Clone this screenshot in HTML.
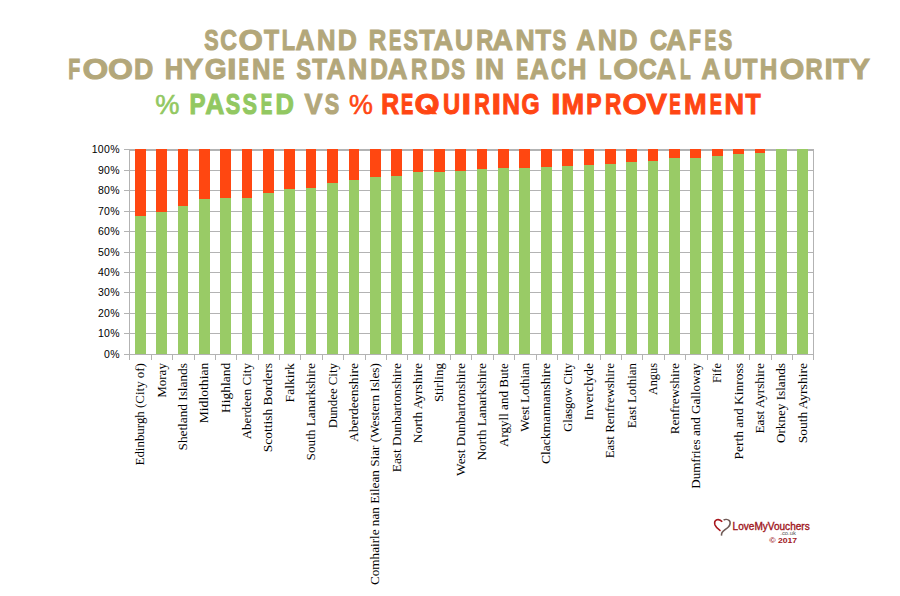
<!DOCTYPE html>
<html><head><meta charset="utf-8"><style>
html,body{margin:0;padding:0;background:#fff;}
body{width:900px;height:596px;overflow:hidden;position:relative;}
svg{position:absolute;left:0;top:0;}
.yl{font-family:"Liberation Sans",sans-serif;font-size:10.5px;fill:#000;text-anchor:end;letter-spacing:0.3px;}
.cl{font-family:"Liberation Serif",serif;font-size:12.8px;fill:#000;text-anchor:end;}
.t text{font-family:"Liberation Sans",sans-serif;}
</style></head><body>
<svg shape-rendering="auto" width="900" height="596" viewBox="0 0 900 596">
<g class="t">
<text transform="translate(204.28,50.40) scale(0.7156,1)" font-size="30.09" font-weight="bold" fill="#b3a77a" stroke="#b3a77a" stroke-width="1.0" vector-effect="non-scaling-stroke">S</text>
<text transform="translate(220.15,50.40) scale(0.7676,1)" font-size="30.09" font-weight="bold" fill="#b3a77a" stroke="#b3a77a" stroke-width="1.0" vector-effect="non-scaling-stroke">C</text>
<text transform="translate(238.61,50.40) scale(1.0428,1)" font-size="30.09" font-weight="bold" fill="#b3a77a" stroke="#b3a77a" stroke-width="1.0" vector-effect="non-scaling-stroke">O</text>
<text transform="translate(264.12,50.40) scale(0.8184,1)" font-size="30.09" font-weight="bold" fill="#b3a77a" stroke="#b3a77a" stroke-width="1.0" vector-effect="non-scaling-stroke">T</text>
<text transform="translate(281.84,50.40) scale(0.7254,1)" font-size="30.09" font-weight="bold" fill="#b3a77a" stroke="#b3a77a" stroke-width="1.0" vector-effect="non-scaling-stroke">L</text>
<text transform="translate(295.44,50.40) scale(0.8818,1)" font-size="30.09" font-weight="bold" fill="#b3a77a" stroke="#b3a77a" stroke-width="1.0" vector-effect="non-scaling-stroke">A</text>
<text transform="translate(317.08,50.40) scale(0.8537,1)" font-size="30.09" font-weight="bold" fill="#b3a77a" stroke="#b3a77a" stroke-width="1.0" vector-effect="non-scaling-stroke">N</text>
<text transform="translate(337.63,50.40) scale(0.8779,1)" font-size="30.09" font-weight="bold" fill="#b3a77a" stroke="#b3a77a" stroke-width="1.0" vector-effect="non-scaling-stroke">D</text>
<text transform="translate(368.78,50.40) scale(0.8063,1)" font-size="30.09" font-weight="bold" fill="#b3a77a" stroke="#b3a77a" stroke-width="1.0" vector-effect="non-scaling-stroke">R</text>
<text transform="translate(388.97,50.40) scale(0.6102,1)" font-size="30.09" font-weight="bold" fill="#b3a77a" stroke="#b3a77a" stroke-width="1.0" vector-effect="non-scaling-stroke">E</text>
<text transform="translate(403.57,50.40) scale(0.7212,1)" font-size="30.09" font-weight="bold" fill="#b3a77a" stroke="#b3a77a" stroke-width="1.0" vector-effect="non-scaling-stroke">S</text>
<text transform="translate(419.21,50.40) scale(0.8466,1)" font-size="30.09" font-weight="bold" fill="#b3a77a" stroke="#b3a77a" stroke-width="1.0" vector-effect="non-scaling-stroke">T</text>
<text transform="translate(433.52,50.40) scale(0.9066,1)" font-size="30.09" font-weight="bold" fill="#b3a77a" stroke="#b3a77a" stroke-width="1.0" vector-effect="non-scaling-stroke">A</text>
<text transform="translate(455.00,50.40) scale(0.8294,1)" font-size="30.09" font-weight="bold" fill="#b3a77a" stroke="#b3a77a" stroke-width="1.0" vector-effect="non-scaling-stroke">U</text>
<text transform="translate(476.22,50.40) scale(0.7854,1)" font-size="30.09" font-weight="bold" fill="#b3a77a" stroke="#b3a77a" stroke-width="1.0" vector-effect="non-scaling-stroke">R</text>
<text transform="translate(492.49,50.40) scale(0.9413,1)" font-size="30.09" font-weight="bold" fill="#b3a77a" stroke="#b3a77a" stroke-width="1.0" vector-effect="non-scaling-stroke">A</text>
<text transform="translate(515.42,50.40) scale(0.8819,1)" font-size="30.09" font-weight="bold" fill="#b3a77a" stroke="#b3a77a" stroke-width="1.0" vector-effect="non-scaling-stroke">N</text>
<text transform="translate(535.51,50.40) scale(0.8466,1)" font-size="30.09" font-weight="bold" fill="#b3a77a" stroke="#b3a77a" stroke-width="1.0" vector-effect="non-scaling-stroke">T</text>
<text transform="translate(552.61,50.40) scale(0.6823,1)" font-size="30.09" font-weight="bold" fill="#b3a77a" stroke="#b3a77a" stroke-width="1.0" vector-effect="non-scaling-stroke">S</text>
<text transform="translate(576.14,50.40) scale(0.8769,1)" font-size="30.09" font-weight="bold" fill="#b3a77a" stroke="#b3a77a" stroke-width="1.0" vector-effect="non-scaling-stroke">A</text>
<text transform="translate(597.71,50.40) scale(0.8876,1)" font-size="30.09" font-weight="bold" fill="#b3a77a" stroke="#b3a77a" stroke-width="1.0" vector-effect="non-scaling-stroke">N</text>
<text transform="translate(619.09,50.40) scale(0.8508,1)" font-size="30.09" font-weight="bold" fill="#b3a77a" stroke="#b3a77a" stroke-width="1.0" vector-effect="non-scaling-stroke">D</text>
<text transform="translate(650.12,50.40) scale(0.7930,1)" font-size="30.09" font-weight="bold" fill="#b3a77a" stroke="#b3a77a" stroke-width="1.0" vector-effect="non-scaling-stroke">C</text>
<text transform="translate(666.21,50.40) scale(0.9165,1)" font-size="30.09" font-weight="bold" fill="#b3a77a" stroke="#b3a77a" stroke-width="1.0" vector-effect="non-scaling-stroke">A</text>
<text transform="translate(688.99,50.40) scale(0.6486,1)" font-size="30.09" font-weight="bold" fill="#b3a77a" stroke="#b3a77a" stroke-width="1.0" vector-effect="non-scaling-stroke">F</text>
<text transform="translate(704.62,50.40) scale(0.5865,1)" font-size="30.09" font-weight="bold" fill="#b3a77a" stroke="#b3a77a" stroke-width="1.0" vector-effect="non-scaling-stroke">E</text>
<text transform="translate(718.41,50.40) scale(0.6823,1)" font-size="30.09" font-weight="bold" fill="#b3a77a" stroke="#b3a77a" stroke-width="1.0" vector-effect="non-scaling-stroke">S</text>
<text transform="translate(68.29,78.70) scale(0.6486,1)" font-size="30.09" font-weight="bold" fill="#b3a77a" stroke="#b3a77a" stroke-width="1.0" vector-effect="non-scaling-stroke">F</text>
<text transform="translate(82.44,78.70) scale(1.1002,1)" font-size="30.09" font-weight="bold" fill="#b3a77a" stroke="#b3a77a" stroke-width="1.0" vector-effect="non-scaling-stroke">O</text>
<text transform="translate(107.88,78.70) scale(1.0667,1)" font-size="30.09" font-weight="bold" fill="#b3a77a" stroke="#b3a77a" stroke-width="1.0" vector-effect="non-scaling-stroke">O</text>
<text transform="translate(134.01,78.70) scale(0.8888,1)" font-size="30.09" font-weight="bold" fill="#b3a77a" stroke="#b3a77a" stroke-width="1.0" vector-effect="non-scaling-stroke">D</text>
<text transform="translate(164.79,78.70) scale(0.8480,1)" font-size="30.09" font-weight="bold" fill="#b3a77a" stroke="#b3a77a" stroke-width="1.0" vector-effect="non-scaling-stroke">H</text>
<text transform="translate(183.29,78.70) scale(0.9964,1)" font-size="30.09" font-weight="bold" fill="#b3a77a" stroke="#b3a77a" stroke-width="1.0" vector-effect="non-scaling-stroke">Y</text>
<text transform="translate(204.65,78.70) scale(0.9358,1)" font-size="30.09" font-weight="bold" fill="#b3a77a" stroke="#b3a77a" stroke-width="1.0" vector-effect="non-scaling-stroke">G</text>
<text transform="translate(226.88,78.70) scale(1.1537,1)" font-size="30.09" font-weight="bold" fill="#b3a77a" stroke="#b3a77a" stroke-width="1.0" vector-effect="non-scaling-stroke">I</text>
<text transform="translate(238.80,78.70) scale(0.4976,1)" font-size="30.09" font-weight="bold" fill="#b3a77a" stroke="#b3a77a" stroke-width="1.0" vector-effect="non-scaling-stroke">E</text>
<text transform="translate(252.09,78.70) scale(0.8480,1)" font-size="30.09" font-weight="bold" fill="#b3a77a" stroke="#b3a77a" stroke-width="1.0" vector-effect="non-scaling-stroke">N</text>
<text transform="translate(272.64,78.70) scale(0.5746,1)" font-size="30.09" font-weight="bold" fill="#b3a77a" stroke="#b3a77a" stroke-width="1.0" vector-effect="non-scaling-stroke">E</text>
<text transform="translate(296.57,78.70) scale(0.7212,1)" font-size="30.09" font-weight="bold" fill="#b3a77a" stroke="#b3a77a" stroke-width="1.0" vector-effect="non-scaling-stroke">S</text>
<text transform="translate(312.23,78.70) scale(0.8071,1)" font-size="30.09" font-weight="bold" fill="#b3a77a" stroke="#b3a77a" stroke-width="1.0" vector-effect="non-scaling-stroke">T</text>
<text transform="translate(326.55,78.70) scale(0.8719,1)" font-size="30.09" font-weight="bold" fill="#b3a77a" stroke="#b3a77a" stroke-width="1.0" vector-effect="non-scaling-stroke">A</text>
<text transform="translate(348.01,78.70) scale(0.8876,1)" font-size="30.09" font-weight="bold" fill="#b3a77a" stroke="#b3a77a" stroke-width="1.0" vector-effect="non-scaling-stroke">N</text>
<text transform="translate(370.16,78.70) scale(0.8129,1)" font-size="30.09" font-weight="bold" fill="#b3a77a" stroke="#b3a77a" stroke-width="1.0" vector-effect="non-scaling-stroke">D</text>
<text transform="translate(387.82,78.70) scale(0.9066,1)" font-size="30.09" font-weight="bold" fill="#b3a77a" stroke="#b3a77a" stroke-width="1.0" vector-effect="non-scaling-stroke">A</text>
<text transform="translate(410.99,78.70) scale(0.7487,1)" font-size="30.09" font-weight="bold" fill="#b3a77a" stroke="#b3a77a" stroke-width="1.0" vector-effect="non-scaling-stroke">R</text>
<text transform="translate(430.72,78.70) scale(0.8834,1)" font-size="30.09" font-weight="bold" fill="#b3a77a" stroke="#b3a77a" stroke-width="1.0" vector-effect="non-scaling-stroke">D</text>
<text transform="translate(451.20,78.70) scale(0.6879,1)" font-size="30.09" font-weight="bold" fill="#b3a77a" stroke="#b3a77a" stroke-width="1.0" vector-effect="non-scaling-stroke">S</text>
<text transform="translate(475.20,78.70) scale(0.9922,1)" font-size="30.09" font-weight="bold" fill="#b3a77a" stroke="#b3a77a" stroke-width="1.0" vector-effect="non-scaling-stroke">I</text>
<text transform="translate(484.71,78.70) scale(0.8876,1)" font-size="30.09" font-weight="bold" fill="#b3a77a" stroke="#b3a77a" stroke-width="1.0" vector-effect="non-scaling-stroke">N</text>
<text transform="translate(516.64,78.70) scale(0.5746,1)" font-size="30.09" font-weight="bold" fill="#b3a77a" stroke="#b3a77a" stroke-width="1.0" vector-effect="non-scaling-stroke">E</text>
<text transform="translate(529.84,78.70) scale(0.8769,1)" font-size="30.09" font-weight="bold" fill="#b3a77a" stroke="#b3a77a" stroke-width="1.0" vector-effect="non-scaling-stroke">A</text>
<text transform="translate(550.94,78.70) scale(0.6964,1)" font-size="30.09" font-weight="bold" fill="#b3a77a" stroke="#b3a77a" stroke-width="1.0" vector-effect="non-scaling-stroke">C</text>
<text transform="translate(568.09,78.70) scale(0.8480,1)" font-size="30.09" font-weight="bold" fill="#b3a77a" stroke="#b3a77a" stroke-width="1.0" vector-effect="non-scaling-stroke">H</text>
<text transform="translate(599.16,78.70) scale(0.6671,1)" font-size="30.09" font-weight="bold" fill="#b3a77a" stroke="#b3a77a" stroke-width="1.0" vector-effect="non-scaling-stroke">L</text>
<text transform="translate(613.18,78.70) scale(1.0667,1)" font-size="30.09" font-weight="bold" fill="#b3a77a" stroke="#b3a77a" stroke-width="1.0" vector-effect="non-scaling-stroke">O</text>
<text transform="translate(638.77,78.70) scale(0.8337,1)" font-size="30.09" font-weight="bold" fill="#b3a77a" stroke="#b3a77a" stroke-width="1.0" vector-effect="non-scaling-stroke">C</text>
<text transform="translate(656.52,78.70) scale(0.9066,1)" font-size="30.09" font-weight="bold" fill="#b3a77a" stroke="#b3a77a" stroke-width="1.0" vector-effect="non-scaling-stroke">A</text>
<text transform="translate(680.03,78.70) scale(0.5829,1)" font-size="30.09" font-weight="bold" fill="#b3a77a" stroke="#b3a77a" stroke-width="1.0" vector-effect="non-scaling-stroke">L</text>
<text transform="translate(701.55,78.70) scale(0.8719,1)" font-size="30.09" font-weight="bold" fill="#b3a77a" stroke="#b3a77a" stroke-width="1.0" vector-effect="non-scaling-stroke">A</text>
<text transform="translate(724.00,78.70) scale(0.8294,1)" font-size="30.09" font-weight="bold" fill="#b3a77a" stroke="#b3a77a" stroke-width="1.0" vector-effect="non-scaling-stroke">U</text>
<text transform="translate(742.53,78.70) scale(0.8127,1)" font-size="30.09" font-weight="bold" fill="#b3a77a" stroke="#b3a77a" stroke-width="1.0" vector-effect="non-scaling-stroke">T</text>
<text transform="translate(759.87,78.70) scale(0.8084,1)" font-size="30.09" font-weight="bold" fill="#b3a77a" stroke="#b3a77a" stroke-width="1.0" vector-effect="non-scaling-stroke">H</text>
<text transform="translate(779.70,78.70) scale(1.0523,1)" font-size="30.09" font-weight="bold" fill="#b3a77a" stroke="#b3a77a" stroke-width="1.0" vector-effect="non-scaling-stroke">O</text>
<text transform="translate(805.62,78.70) scale(0.7854,1)" font-size="30.09" font-weight="bold" fill="#b3a77a" stroke="#b3a77a" stroke-width="1.0" vector-effect="non-scaling-stroke">R</text>
<text transform="translate(824.50,78.70) scale(0.9922,1)" font-size="30.09" font-weight="bold" fill="#b3a77a" stroke="#b3a77a" stroke-width="1.0" vector-effect="non-scaling-stroke">I</text>
<text transform="translate(832.90,78.70) scale(0.8805,1)" font-size="30.09" font-weight="bold" fill="#b3a77a" stroke="#b3a77a" stroke-width="1.0" vector-effect="non-scaling-stroke">T</text>
<text transform="translate(849.99,78.70) scale(0.9964,1)" font-size="30.09" font-weight="bold" fill="#b3a77a" stroke="#b3a77a" stroke-width="1.0" vector-effect="non-scaling-stroke">Y</text>
<text transform="translate(155.33,114.14) scale(0.9989,1)" font-size="27.30" font-weight="normal" fill="#92c862" stroke="#92c862" stroke-width="0.6">%</text>
<text transform="translate(189.59,113.70) scale(0.8105,1)" font-size="29.65" font-weight="bold" fill="#92c862" stroke="#92c862" stroke-width="1.0" vector-effect="non-scaling-stroke">P</text>
<text transform="translate(205.14,113.70) scale(0.8897,1)" font-size="29.65" font-weight="bold" fill="#92c862" stroke="#92c862" stroke-width="1.0" vector-effect="non-scaling-stroke">A</text>
<text transform="translate(225.87,113.70) scale(0.7318,1)" font-size="29.65" font-weight="bold" fill="#92c862" stroke="#92c862" stroke-width="1.0" vector-effect="non-scaling-stroke">S</text>
<text transform="translate(242.57,113.70) scale(0.7318,1)" font-size="29.65" font-weight="bold" fill="#92c862" stroke="#92c862" stroke-width="1.0" vector-effect="non-scaling-stroke">S</text>
<text transform="translate(260.64,113.70) scale(0.5831,1)" font-size="29.65" font-weight="bold" fill="#92c862" stroke="#92c862" stroke-width="1.0" vector-effect="non-scaling-stroke">E</text>
<text transform="translate(275.50,113.70) scale(0.8579,1)" font-size="29.65" font-weight="bold" fill="#92c862" stroke="#92c862" stroke-width="1.0" vector-effect="non-scaling-stroke">D</text>
<text transform="translate(304.61,113.70) scale(0.9137,1)" font-size="29.65" font-weight="bold" fill="#b3a77a" stroke="#b3a77a" stroke-width="1.0" vector-effect="non-scaling-stroke">V</text>
<text transform="translate(324.87,113.70) scale(0.7318,1)" font-size="29.65" font-weight="bold" fill="#b3a77a" stroke="#b3a77a" stroke-width="1.0" vector-effect="non-scaling-stroke">S</text>
<text transform="translate(349.04,114.14) scale(0.9854,1)" font-size="27.30" font-weight="normal" fill="#ff4613" stroke="#ff4613" stroke-width="0.6">%</text>
<text transform="translate(381.15,113.70) scale(0.8341,1)" font-size="29.65" font-weight="bold" fill="#ff4613" stroke="#ff4613" stroke-width="1.0" vector-effect="non-scaling-stroke">R</text>
<text transform="translate(400.97,113.70) scale(0.6192,1)" font-size="29.65" font-weight="bold" fill="#ff4613" stroke="#ff4613" stroke-width="1.0" vector-effect="non-scaling-stroke">E</text>
<text transform="translate(414.48,113.70) scale(1.0872,1)" font-size="29.65" font-weight="bold" fill="#ff4613" stroke="#ff4613" stroke-width="1.0" vector-effect="non-scaling-stroke">O</text>
<path d="M424.6,106.8 L429.2,104.2 L437.2,114.2 L431.6,114.2 Z" fill="#ff4613"/>
<text transform="translate(443.07,113.70) scale(0.8023,1)" font-size="29.65" font-weight="bold" fill="#ff4613" stroke="#ff4613" stroke-width="1.0" vector-effect="non-scaling-stroke">U</text>
<text transform="translate(461.48,113.70) scale(1.1707,1)" font-size="29.65" font-weight="bold" fill="#ff4613" stroke="#ff4613" stroke-width="1.0" vector-effect="non-scaling-stroke">I</text>
<text transform="translate(474.36,113.70) scale(0.7279,1)" font-size="29.65" font-weight="bold" fill="#ff4613" stroke="#ff4613" stroke-width="1.0" vector-effect="non-scaling-stroke">R</text>
<text transform="translate(491.48,113.70) scale(1.1707,1)" font-size="29.65" font-weight="bold" fill="#ff4613" stroke="#ff4613" stroke-width="1.0" vector-effect="non-scaling-stroke">I</text>
<text transform="translate(502.16,113.70) scale(0.8261,1)" font-size="29.65" font-weight="bold" fill="#ff4613" stroke="#ff4613" stroke-width="1.0" vector-effect="non-scaling-stroke">N</text>
<text transform="translate(521.55,113.70) scale(0.7846,1)" font-size="29.65" font-weight="bold" fill="#ff4613" stroke="#ff4613" stroke-width="1.0" vector-effect="non-scaling-stroke">G</text>
<text transform="translate(550.88,113.70) scale(1.1707,1)" font-size="29.65" font-weight="bold" fill="#ff4613" stroke="#ff4613" stroke-width="1.0" vector-effect="non-scaling-stroke">I</text>
<text transform="translate(561.38,113.70) scale(0.9164,1)" font-size="29.65" font-weight="bold" fill="#ff4613" stroke="#ff4613" stroke-width="1.0" vector-effect="non-scaling-stroke">M</text>
<text transform="translate(586.26,113.70) scale(0.7747,1)" font-size="29.65" font-weight="bold" fill="#ff4613" stroke="#ff4613" stroke-width="1.0" vector-effect="non-scaling-stroke">P</text>
<text transform="translate(604.99,113.70) scale(0.7598,1)" font-size="29.65" font-weight="bold" fill="#ff4613" stroke="#ff4613" stroke-width="1.0" vector-effect="non-scaling-stroke">R</text>
<text transform="translate(622.52,113.70) scale(1.0533,1)" font-size="29.65" font-weight="bold" fill="#ff4613" stroke="#ff4613" stroke-width="1.0" vector-effect="non-scaling-stroke">O</text>
<text transform="translate(646.29,113.70) scale(1.0479,1)" font-size="29.65" font-weight="bold" fill="#ff4613" stroke="#ff4613" stroke-width="1.0" vector-effect="non-scaling-stroke">V</text>
<text transform="translate(669.34,113.70) scale(0.5831,1)" font-size="29.65" font-weight="bold" fill="#ff4613" stroke="#ff4613" stroke-width="1.0" vector-effect="non-scaling-stroke">E</text>
<text transform="translate(683.98,113.70) scale(0.9164,1)" font-size="29.65" font-weight="bold" fill="#ff4613" stroke="#ff4613" stroke-width="1.0" vector-effect="non-scaling-stroke">M</text>
<text transform="translate(709.77,113.70) scale(0.6192,1)" font-size="29.65" font-weight="bold" fill="#ff4613" stroke="#ff4613" stroke-width="1.0" vector-effect="non-scaling-stroke">E</text>
<text transform="translate(724.49,113.70) scale(0.9121,1)" font-size="29.65" font-weight="bold" fill="#ff4613" stroke="#ff4613" stroke-width="1.0" vector-effect="non-scaling-stroke">N</text>
<text transform="translate(745.52,113.70) scale(0.8362,1)" font-size="29.65" font-weight="bold" fill="#ff4613" stroke="#ff4613" stroke-width="1.0" vector-effect="non-scaling-stroke">T</text>
</g>
<g shape-rendering="crispEdges"><rect x="124" y="149" width="690" height="1" fill="#b3b3b3"/>
<text x="119.8" y="152.60" class="yl">100%</text>
<rect x="124" y="170" width="690" height="1" fill="#b3b3b3"/>
<text x="119.8" y="173.60" class="yl">90%</text>
<rect x="124" y="190" width="690" height="1" fill="#b3b3b3"/>
<text x="119.8" y="193.60" class="yl">80%</text>
<rect x="124" y="211" width="690" height="1" fill="#b3b3b3"/>
<text x="119.8" y="214.60" class="yl">70%</text>
<rect x="124" y="231" width="690" height="1" fill="#b3b3b3"/>
<text x="119.8" y="234.60" class="yl">60%</text>
<rect x="124" y="252" width="690" height="1" fill="#b3b3b3"/>
<text x="119.8" y="255.60" class="yl">50%</text>
<rect x="124" y="272" width="690" height="1" fill="#b3b3b3"/>
<text x="119.8" y="275.60" class="yl">40%</text>
<rect x="124" y="292" width="690" height="1" fill="#b3b3b3"/>
<text x="119.8" y="295.60" class="yl">30%</text>
<rect x="124" y="313" width="690" height="1" fill="#b3b3b3"/>
<text x="119.8" y="316.60" class="yl">20%</text>
<rect x="124" y="333" width="690" height="1" fill="#b3b3b3"/>
<text x="119.8" y="336.60" class="yl">10%</text>
<rect x="124" y="354" width="690" height="1" fill="#b3b3b3"/>
<text x="119.8" y="357.60" class="yl">0%</text>
<rect x="129" y="150" width="685" height="1" fill="#b3b3b3"/>
<rect x="135" y="149" width="11" height="67" fill="#ff4711"/>
<rect x="135" y="216" width="11" height="138" fill="#99cb66"/>
<rect x="156" y="149" width="11" height="63" fill="#ff4711"/>
<rect x="156" y="212" width="11" height="142" fill="#99cb66"/>
<rect x="178" y="149" width="10" height="57" fill="#ff4711"/>
<rect x="178" y="206" width="10" height="148" fill="#99cb66"/>
<rect x="199" y="149" width="11" height="50" fill="#ff4711"/>
<rect x="199" y="199" width="11" height="155" fill="#99cb66"/>
<rect x="220" y="149" width="11" height="49" fill="#ff4711"/>
<rect x="220" y="198" width="11" height="156" fill="#99cb66"/>
<rect x="242" y="149" width="10" height="49" fill="#ff4711"/>
<rect x="242" y="198" width="10" height="156" fill="#99cb66"/>
<rect x="263" y="149" width="11" height="44" fill="#ff4711"/>
<rect x="263" y="193" width="11" height="161" fill="#99cb66"/>
<rect x="284" y="149" width="11" height="40" fill="#ff4711"/>
<rect x="284" y="189" width="11" height="165" fill="#99cb66"/>
<rect x="306" y="149" width="10" height="39" fill="#ff4711"/>
<rect x="306" y="188" width="10" height="166" fill="#99cb66"/>
<rect x="327" y="149" width="11" height="34" fill="#ff4711"/>
<rect x="327" y="183" width="11" height="171" fill="#99cb66"/>
<rect x="349" y="149" width="10" height="31" fill="#ff4711"/>
<rect x="349" y="180" width="10" height="174" fill="#99cb66"/>
<rect x="370" y="149" width="11" height="28" fill="#ff4711"/>
<rect x="370" y="177" width="11" height="177" fill="#99cb66"/>
<rect x="391" y="149" width="11" height="27" fill="#ff4711"/>
<rect x="391" y="176" width="11" height="178" fill="#99cb66"/>
<rect x="413" y="149" width="10" height="23" fill="#ff4711"/>
<rect x="413" y="172" width="10" height="182" fill="#99cb66"/>
<rect x="434" y="149" width="11" height="23" fill="#ff4711"/>
<rect x="434" y="172" width="11" height="182" fill="#99cb66"/>
<rect x="455" y="149" width="11" height="22" fill="#ff4711"/>
<rect x="455" y="171" width="11" height="183" fill="#99cb66"/>
<rect x="477" y="149" width="10" height="20" fill="#ff4711"/>
<rect x="477" y="169" width="10" height="185" fill="#99cb66"/>
<rect x="498" y="149" width="11" height="19" fill="#ff4711"/>
<rect x="498" y="168" width="11" height="186" fill="#99cb66"/>
<rect x="519" y="149" width="11" height="19" fill="#ff4711"/>
<rect x="519" y="168" width="11" height="186" fill="#99cb66"/>
<rect x="541" y="149" width="11" height="18" fill="#ff4711"/>
<rect x="541" y="167" width="11" height="187" fill="#99cb66"/>
<rect x="562" y="149" width="11" height="17" fill="#ff4711"/>
<rect x="562" y="166" width="11" height="188" fill="#99cb66"/>
<rect x="584" y="149" width="10" height="16" fill="#ff4711"/>
<rect x="584" y="165" width="10" height="189" fill="#99cb66"/>
<rect x="605" y="149" width="11" height="15" fill="#ff4711"/>
<rect x="605" y="164" width="11" height="190" fill="#99cb66"/>
<rect x="626" y="149" width="11" height="13" fill="#ff4711"/>
<rect x="626" y="162" width="11" height="192" fill="#99cb66"/>
<rect x="648" y="149" width="10" height="12" fill="#ff4711"/>
<rect x="648" y="161" width="10" height="193" fill="#99cb66"/>
<rect x="669" y="149" width="11" height="9" fill="#ff4711"/>
<rect x="669" y="158" width="11" height="196" fill="#99cb66"/>
<rect x="690" y="149" width="11" height="9" fill="#ff4711"/>
<rect x="690" y="158" width="11" height="196" fill="#99cb66"/>
<rect x="712" y="149" width="11" height="7" fill="#ff4711"/>
<rect x="712" y="156" width="11" height="198" fill="#99cb66"/>
<rect x="733" y="149" width="11" height="5" fill="#ff4711"/>
<rect x="733" y="154" width="11" height="200" fill="#99cb66"/>
<rect x="755" y="149" width="10" height="4" fill="#ff4711"/>
<rect x="755" y="153" width="10" height="201" fill="#99cb66"/>
<rect x="776" y="149" width="11" height="205" fill="#99cb66"/>
<rect x="797" y="149" width="11" height="205" fill="#99cb66"/>
<rect x="129" y="149" width="1" height="211" fill="#b3b3b3"/>
<rect x="813" y="149" width="1" height="206" fill="#b3b3b3"/>
<rect x="129" y="355" width="1" height="5" fill="#b3b3b3"/>
<rect x="151" y="355" width="1" height="5" fill="#b3b3b3"/>
<rect x="172" y="355" width="1" height="5" fill="#b3b3b3"/>
<rect x="194" y="355" width="1" height="5" fill="#b3b3b3"/>
<rect x="215" y="355" width="1" height="5" fill="#b3b3b3"/>
<rect x="236" y="355" width="1" height="5" fill="#b3b3b3"/>
<rect x="258" y="355" width="1" height="5" fill="#b3b3b3"/>
<rect x="279" y="355" width="1" height="5" fill="#b3b3b3"/>
<rect x="300" y="355" width="1" height="5" fill="#b3b3b3"/>
<rect x="322" y="355" width="1" height="5" fill="#b3b3b3"/>
<rect x="343" y="355" width="1" height="5" fill="#b3b3b3"/>
<rect x="365" y="355" width="1" height="5" fill="#b3b3b3"/>
<rect x="386" y="355" width="1" height="5" fill="#b3b3b3"/>
<rect x="407" y="355" width="1" height="5" fill="#b3b3b3"/>
<rect x="429" y="355" width="1" height="5" fill="#b3b3b3"/>
<rect x="450" y="355" width="1" height="5" fill="#b3b3b3"/>
<rect x="471" y="355" width="1" height="5" fill="#b3b3b3"/>
<rect x="493" y="355" width="1" height="5" fill="#b3b3b3"/>
<rect x="514" y="355" width="1" height="5" fill="#b3b3b3"/>
<rect x="536" y="355" width="1" height="5" fill="#b3b3b3"/>
<rect x="557" y="355" width="1" height="5" fill="#b3b3b3"/>
<rect x="578" y="355" width="1" height="5" fill="#b3b3b3"/>
<rect x="600" y="355" width="1" height="5" fill="#b3b3b3"/>
<rect x="621" y="355" width="1" height="5" fill="#b3b3b3"/>
<rect x="642" y="355" width="1" height="5" fill="#b3b3b3"/>
<rect x="664" y="355" width="1" height="5" fill="#b3b3b3"/>
<rect x="685" y="355" width="1" height="5" fill="#b3b3b3"/>
<rect x="707" y="355" width="1" height="5" fill="#b3b3b3"/>
<rect x="728" y="355" width="1" height="5" fill="#b3b3b3"/>
<rect x="749" y="355" width="1" height="5" fill="#b3b3b3"/>
<rect x="771" y="355" width="1" height="5" fill="#b3b3b3"/>
<rect x="792" y="355" width="1" height="5" fill="#b3b3b3"/>
<rect x="813" y="355" width="1" height="5" fill="#b3b3b3"/></g><text transform="translate(144.23,363.10) rotate(-90)" class="cl" textLength="102.42" lengthAdjust="spacingAndGlyphs">Edinburgh (City of)</text>
<text transform="translate(165.60,363.10) rotate(-90)" class="cl" textLength="34.70" lengthAdjust="spacingAndGlyphs">Moray</text>
<text transform="translate(186.98,363.10) rotate(-90)" class="cl" textLength="87.42" lengthAdjust="spacingAndGlyphs">Shetland Islands</text>
<text transform="translate(208.35,362.70) rotate(-90)" class="cl" textLength="60.66" lengthAdjust="spacingAndGlyphs">Midlothian</text>
<text transform="translate(229.73,362.70) rotate(-90)" class="cl" textLength="50.38" lengthAdjust="spacingAndGlyphs">Highland</text>
<text transform="translate(251.10,363.10) rotate(-90)" class="cl" textLength="76.20" lengthAdjust="spacingAndGlyphs">Aberdeen City</text>
<text transform="translate(272.47,363.10) rotate(-90)" class="cl" textLength="89.04" lengthAdjust="spacingAndGlyphs">Scottish Borders</text>
<text transform="translate(293.85,363.10) rotate(-90)" class="cl" textLength="39.32" lengthAdjust="spacingAndGlyphs">Falkirk</text>
<text transform="translate(315.22,363.10) rotate(-90)" class="cl" textLength="97.36" lengthAdjust="spacingAndGlyphs">South Lanarkshire</text>
<text transform="translate(336.60,363.10) rotate(-90)" class="cl" textLength="65.26" lengthAdjust="spacingAndGlyphs">Dundee City</text>
<text transform="translate(357.97,363.10) rotate(-90)" class="cl" textLength="78.86" lengthAdjust="spacingAndGlyphs">Aberdeenshire</text>
<text transform="translate(379.34,363.10) rotate(-90)" class="cl" textLength="222.02" lengthAdjust="spacingAndGlyphs">Comhairle nan Eilean Siar (Western Isles)</text>
<text transform="translate(400.72,363.10) rotate(-90)" class="cl" textLength="109.14" lengthAdjust="spacingAndGlyphs">East Dunbartonshire</text>
<text transform="translate(422.09,363.10) rotate(-90)" class="cl" textLength="80.26" lengthAdjust="spacingAndGlyphs">North Ayrshire</text>
<text transform="translate(443.47,363.10) rotate(-90)" class="cl" textLength="39.02" lengthAdjust="spacingAndGlyphs">Stirling</text>
<text transform="translate(464.84,363.10) rotate(-90)" class="cl" textLength="112.80" lengthAdjust="spacingAndGlyphs">West Dunbartonshire</text>
<text transform="translate(486.21,363.10) rotate(-90)" class="cl" textLength="97.36" lengthAdjust="spacingAndGlyphs">North Lanarkshire</text>
<text transform="translate(507.59,363.10) rotate(-90)" class="cl" textLength="83.92" lengthAdjust="spacingAndGlyphs">Argyll and Bute</text>
<text transform="translate(528.96,362.70) rotate(-90)" class="cl" textLength="69.08" lengthAdjust="spacingAndGlyphs">West Lothian</text>
<text transform="translate(550.34,363.10) rotate(-90)" class="cl" textLength="101.02" lengthAdjust="spacingAndGlyphs">Clackmannanshire</text>
<text transform="translate(571.71,363.10) rotate(-90)" class="cl" textLength="68.68" lengthAdjust="spacingAndGlyphs">Glasgow City</text>
<text transform="translate(593.08,363.10) rotate(-90)" class="cl" textLength="57.14" lengthAdjust="spacingAndGlyphs">Inverclyde</text>
<text transform="translate(614.46,363.10) rotate(-90)" class="cl" textLength="95.26" lengthAdjust="spacingAndGlyphs">East Renfrewshire</text>
<text transform="translate(635.83,363.10) rotate(-90)" class="cl" textLength="65.26" lengthAdjust="spacingAndGlyphs">East Lothian</text>
<text transform="translate(657.21,363.10) rotate(-90)" class="cl" textLength="32.02" lengthAdjust="spacingAndGlyphs">Angus</text>
<text transform="translate(678.58,363.10) rotate(-90)" class="cl" textLength="71.14" lengthAdjust="spacingAndGlyphs">Renfrewshire</text>
<text transform="translate(699.95,363.10) rotate(-90)" class="cl" textLength="125.70" lengthAdjust="spacingAndGlyphs">Dumfries and Galloway</text>
<text transform="translate(721.33,363.10) rotate(-90)" class="cl" textLength="19.92" lengthAdjust="spacingAndGlyphs">Fife</text>
<text transform="translate(742.70,363.10) rotate(-90)" class="cl" textLength="96.36" lengthAdjust="spacingAndGlyphs">Perth and Kinross</text>
<text transform="translate(764.08,363.10) rotate(-90)" class="cl" textLength="70.48" lengthAdjust="spacingAndGlyphs">East Ayrshire</text>
<text transform="translate(785.45,363.10) rotate(-90)" class="cl" textLength="79.90" lengthAdjust="spacingAndGlyphs">Orkney Islands</text>
<text transform="translate(806.82,363.10) rotate(-90)" class="cl" textLength="80.26" lengthAdjust="spacingAndGlyphs">South Ayrshire</text>
<g>
<path d="M722.2,521.8 C720.6,519.8 718.6,519.3 716.9,519.8 C715,520.5 714.3,522.8 715,525 C715.8,527.2 718,529.2 720.5,530.8" fill="none" stroke="#a8161c" stroke-width="1.6"/>
<path d="M723.6,520 C725,519.2 727.8,519.2 729.3,520.6 C730.6,521.9 730.4,524.8 728.6,526.7 C726.3,529.1 723,530.6 722,532.6 C721.5,533.6 721.4,534.6 721.6,535.6" fill="none" stroke="#6f5a56" stroke-width="1.6"/>
<text x="732.6" y="529.7" font-family="Liberation Sans, sans-serif" font-size="10.2" fill="#a0161c" stroke="#a0161c" stroke-width="0.35" textLength="77.1" lengthAdjust="spacingAndGlyphs">LoveMyVouchers</text>
<text x="780.3" y="534.7" font-family="Liberation Sans, sans-serif" font-size="5.2" fill="#555" textLength="15.5" lengthAdjust="spacingAndGlyphs">.co.uk</text>
<text x="769.2" y="543" font-family="Liberation Sans, sans-serif" font-weight="bold" font-size="7.6" fill="#a0161c" textLength="28" lengthAdjust="spacingAndGlyphs">© 2017</text>
</g>
</svg>
</body></html>
